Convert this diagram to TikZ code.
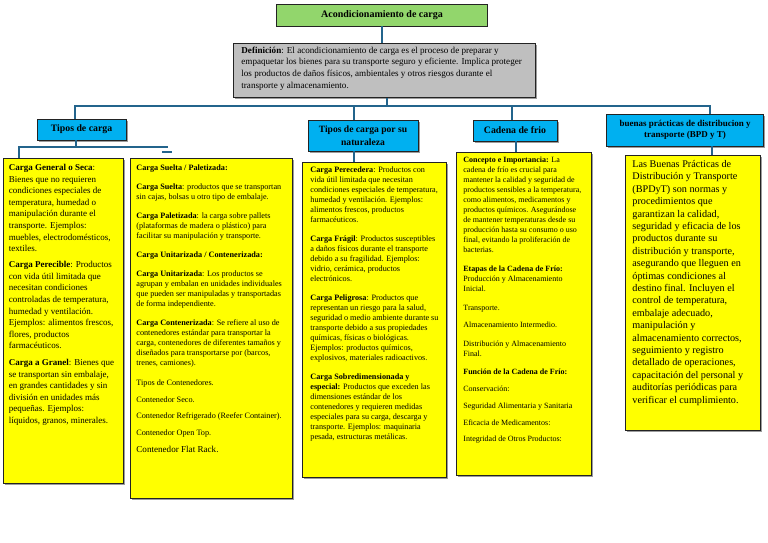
\documentclass[tikz,border=0pt]{standalone}
\usepackage{fontspec}
\setmainfont{Liberation Serif}
\usetikzlibrary{shadows}
\definecolor{titlegreen}{RGB}{146,214,108}
\definecolor{hdrblue}{RGB}{0,176,240}
\definecolor{boxyellow}{RGB}{255,255,0}
\definecolor{defgray}{RGB}{191,191,191}
\definecolor{conncol}{RGB}{35,100,140}
\definecolor{edgecol}{RGB}{35,35,35}
\tikzset{
  shad/.style={drop shadow={shadow xshift=1.5pt,shadow yshift=-1.5pt,fill=black!55,opacity=0.7}},
  ybox/.style={draw=edgecol,line width=0.8pt,fill=boxyellow,shad,inner ysep=0pt,anchor=north west},
  hdr/.style={draw=edgecol,line width=0.8pt,fill=hdrblue,shad,inner sep=0pt,align=center},
  conn/.style={draw=conncol,line width=2.2pt}
}
\begin{document}
\begin{tikzpicture}[x=1pt,y=-1pt]
\useasboundingbox (0,0) rectangle (768,543);
\fill[white] (0,0) rectangle (768,543);

% title
\node[draw=edgecol,line width=0.8pt,fill=titlegreen,minimum width=211pt,minimum height=22pt,inner sep=0pt,
  font=\fontsize{10}{12}\selectfont\bfseries] (title) at (382,15) {Acondicionamiento de carga};

% definition
\node[draw=edgecol,line width=0.8pt,fill=defgray,shad,anchor=north west,inner xsep=8pt,inner ysep=0pt] (def) at (233,42.7)
{\parbox[t][54pt][t]{286pt}{\raggedright\fontsize{9.1}{11.7}\selectfont\rule{0pt}{10pt}\textbf{Definición}: El acondicionamiento de carga es el proceso de preparar y\\
empaquetar los bienes para su transporte seguro y eficiente. Implica proteger\\
los productos de daños físicos, ambientales y otros riesgos durante el\\
transporte y almacenamiento.}};

% headers
\node[hdr,minimum width=89pt,minimum height=21pt,font=\fontsize{9.8}{12}\selectfont\bfseries] (tc) at (81.5,129.5) {Tipos de carga};
\node[hdr,minimum width=110pt,minimum height=31pt,font=\fontsize{9.6}{12.5}\selectfont\bfseries] (nat) at (363,135.5) {Tipos de carga por su\\naturaleza};
\node[hdr,minimum width=84pt,minimum height=21pt,font=\fontsize{9.8}{12}\selectfont\bfseries] (cf) at (515,130.5) {Cadena de frio};
\node[hdr,minimum width=157pt,minimum height=32pt,font=\fontsize{9}{11.6}\selectfont\bfseries] (bpd) at (685,130) {buenas prácticas de distribucion y\\transporte (BPD y T)};

% box 1
\node[ybox,inner xsep=5.5pt] (b1) at (3,158)
{\parbox[t][325pt][t]{109pt}{\raggedright\fontsize{9}{11.6}\selectfont\rule{0pt}{12pt}\textbf{Carga General o Seca}:\\
Bienes que no requieren\\
condiciones especiales de\\
temperatura, humedad o\\
manipulación durante el\\
transporte. Ejemplos:\\
muebles, electrodomésticos,\\
textiles.\\[4.5pt]
\textbf{Carga Perecible}: Productos\\
con vida útil limitada que\\
necesitan condiciones\\
controladas de temperatura,\\
humedad y ventilación.\\
Ejemplos: alimentos frescos,\\
flores, productos\\
farmacéuticos.\\[5pt]
\textbf{Carga a Granel}: Bienes que\\
se transportan sin embalaje,\\
en grandes cantidades y sin\\
división en unidades más\\
pequeñas. Ejemplos:\\
líquidos, granos, minerales.}};

% box 2
\node[ybox,inner xsep=6pt] (b2) at (130,158)
{\parbox[t][340pt][t]{150pt}{\raggedright\fontsize{8.2}{9.9}\selectfont\rule{0pt}{12.2pt}\textbf{Carga Suelta / Paletizada:}\\[9.2pt]
\textbf{Carga Suelta}: productos que se transportan\\
sin cajas, bolsas u otro tipo de embalaje.\\[9.2pt]
\textbf{Carga Paletizada}: la carga sobre pallets\\
(plataformas de madera o plástico) para\\
facilitar su manipulación y transporte.\\[9.2pt]
\textbf{Carga Unitarizada / Contenerizada:}\\[9.2pt]
\textbf{Carga Unitarizada}: Los productos se\\
agrupan y embalan en unidades individuales\\
que pueden ser manipuladas y transportadas\\
de forma independiente.\\[9.2pt]
\textbf{Carga Contenerizada}: Se refiere al uso de\\
contenedores estándar para transportar la\\
carga, contenedores de diferentes tamaños y\\
diseñados para transportarse por (barcos,\\
trenes, camiones).\\[10pt]
Tipos de Contenedores.\\[7.4pt]
Contenedor Seco.\\[6.4pt]
Contenedor Refrigerado (Reefer Container).\\[6.8pt]
Contenedor Open Top.\\[7pt]
{\fontsize{9.1}{9.9}\selectfont Contenedor Flat Rack.}}};

% box 3
\node[ybox,inner xsep=8pt] (b3) at (302,162)
{\parbox[t][315pt][t]{128pt}{\raggedright\fontsize{8.2}{10}\selectfont\rule{0pt}{10.5pt}\textbf{Carga Perecedera}: Productos con\\
vida útil limitada que necesitan\\
condiciones especiales de temperatura,\\
humedad y ventilación. Ejemplos:\\
alimentos frescos, productos\\
farmacéuticos.\\[9pt]
\textbf{Carga Frágil}: Productos susceptibles\\
a daños físicos durante el transporte\\
debido a su fragilidad. Ejemplos:\\
vidrio, cerámica, productos\\
electrónicos.\\[8.7pt]
\textbf{Carga Peligrosa}: Productos que\\
representan un riesgo para la salud,\\
seguridad o medio ambiente durante su\\
transporte debido a sus propiedades\\
químicas, físicas o biológicas.\\
Ejemplos: productos químicos,\\
explosivos, materiales radioactivos.\\[8.7pt]
\textbf{Carga Sobredimensionada y}\\
\textbf{especial:} Productos que exceden las\\
dimensiones estándar de los\\
contenedores y requieren medidas\\
especiales para su carga, descarga y\\
transporte. Ejemplos: maquinaria\\
pesada, estructuras metálicas.}};

% box 4
\node[ybox,inner xsep=7pt] (b4) at (456,152)
{\parbox[t][323pt][t]{121pt}{\raggedright\fontsize{8}{10}\selectfont\rule{0pt}{10.5pt}\textbf{Concepto e Importancia:} La\\
cadena de frío es crucial para\\
mantener la calidad y seguridad de\\
productos sensibles a la temperatura,\\
como alimentos, medicamentos y\\
productos químicos. Asegurándose\\
de mantener temperaturas desde su\\
producción hasta su consumo o uso\\
final, evitando la proliferación de\\
bacterias.\\[8.3pt]
\textbf{Etapas de la Cadena de Frío:}\\
Producción y Almacenamiento\\
Inicial.\\[9pt]
Transporte.\\[7.6pt]
Almacenamiento Intermedio.\\[9pt]
Distribución y Almacenamiento\\
Final.\\[7.6pt]
\textbf{Función de la Cadena de Frío:}\\[6.7pt]
Conservación:\\[7.3pt]
Seguridad Alimentaria y Sanitaria\\[6.7pt]
Eficacia de Medicamentos:\\[6.7pt]
Integridad de Otros Productos:}};

% box 5
\node[ybox,inner xsep=7pt] (b5) at (625,155)
{\parbox[t][275pt][t]{121pt}{\raggedright\fontsize{10.2}{12.4}\selectfont\rule{0pt}{12pt}Las Buenas Prácticas de\\
Distribución y Transporte\\
(BPDyT) son normas y\\
procedimientos que\\
garantizan la calidad,\\
seguridad y eficacia de los\\
productos durante su\\
distribución y transporte,\\
asegurando que lleguen en\\
óptimas condiciones al\\
destino final. Incluyen el\\
control de temperatura,\\
embalaje adecuado,\\
manipulación y\\
almacenamiento correctos,\\
seguimiento y registro\\
detallado de operaciones,\\
capacitación del personal y\\
auditorías periódicas para\\
verificar el cumplimiento.}};

% connectors
\coordinate (bus) at (0,106);
\coordinate (tcbus) at (0,147);
\coordinate (tcend) at (168,147);
\coordinate (dashA) at (162,152);
\coordinate (dashB) at (172,152);
\coordinate (dd) at ([xshift=2.7pt]def.south);
\coordinate (u1) at ([xshift=-6.5pt]tc.north);
\coordinate (u2) at ([xshift=-9pt]nat.north);
\coordinate (u3) at ([xshift=-2.7pt]cf.north);
\coordinate (u4) at ([xshift=25pt]bpd.north);
\coordinate (l1) at ([xshift=-5.5pt]tc.south);
\coordinate (l2) at ([xshift=-9pt]nat.south);
\coordinate (l3) at ([xshift=1pt]cf.south);
\coordinate (l4) at ([xshift=27pt]bpd.south);
\coordinate (b1in) at ([xshift=16pt]b1.north west);

\draw[conn] (title.south) -- (title.south |- def.north);
\draw[conn] (dd) -- (dd |- bus);
\draw[conn] (u1) |- (u4 |- bus) -- (u4);
\draw[conn] (u2) -- (u2 |- bus);
\draw[conn] (u3) -- (u3 |- bus);
\draw[conn] (l1) -- (l1 |- tcbus);
\draw[conn] (b1in) |- (tcend);
\draw[conn] (dashA) -- (dashB);
\draw[conn] (l2) -- (l2 |- b3.north);
\draw[conn] (l3) -- (l3 |- b4.north);
\draw[conn] (l4) -- (l4 |- b5.north);
\end{tikzpicture}
\end{document}
